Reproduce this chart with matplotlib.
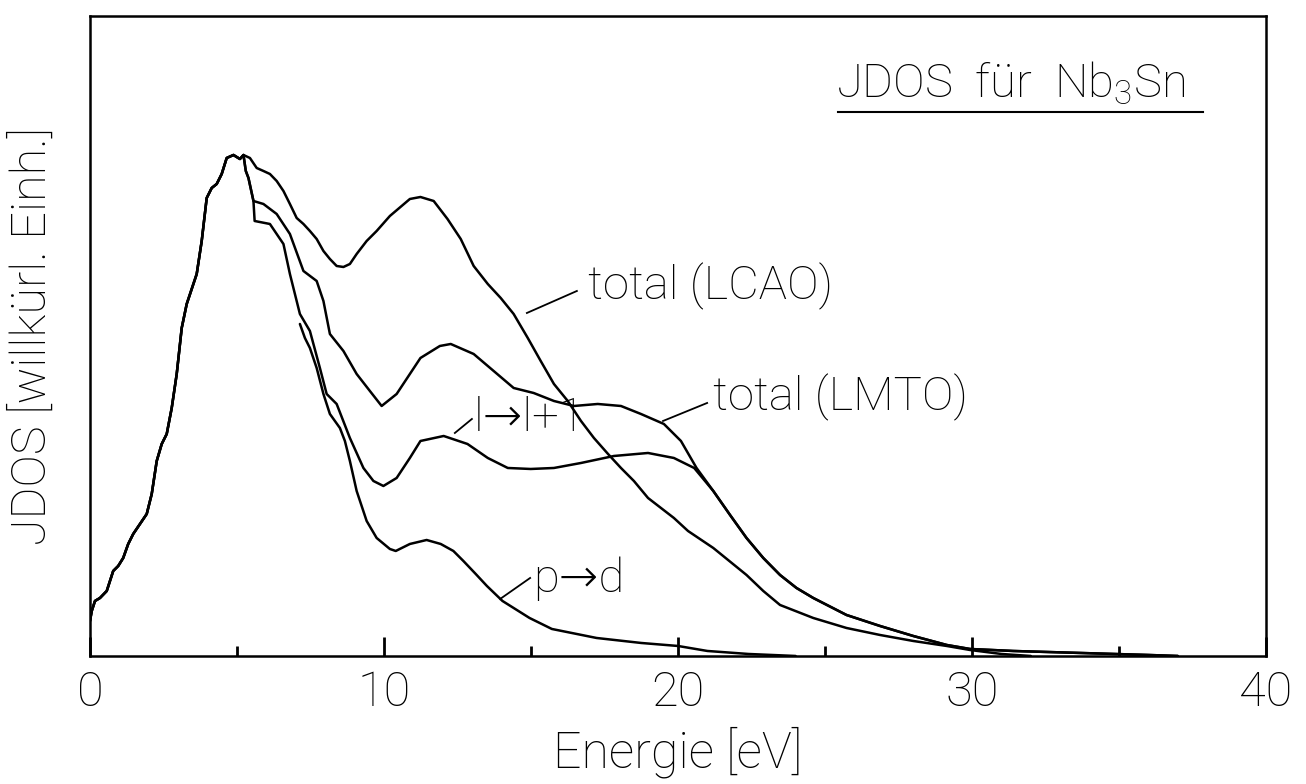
"""JDOS of Nb3Sn: LCAO / LMTO totals and the l->l+1, p->d partial curves."""

import matplotlib

matplotlib.use("Agg")
import matplotlib.pyplot as plt  # noqa: E402

plt.rcParams["font.family"] = ["Roboto", "DejaVu Sans"]
plt.rcParams["font.weight"] = "light"
plt.rcParams["axes.labelweight"] = "light"
plt.rcParams["mathtext.fontset"] = "custom"
plt.rcParams["mathtext.rm"] = "Roboto:light"
plt.rcParams["mathtext.default"] = "regular"

# energy in eV, JDOS in arbitrary units
rise_e = [0.0, 0.06, 0.17, 0.34, 0.57, 0.79, 0.96, 1.13, 1.30, 1.47, 1.70, 1.93,
          2.10, 2.27, 2.44, 2.61, 2.78, 2.95, 3.12, 3.29, 3.46, 3.63, 3.80, 3.97,
          4.14, 4.31, 4.48, 4.65, 4.88, 5.10, 5.22]
rise_j = [35, 45, 55, 58, 65, 85, 90, 98, 112, 122, 132, 142,
          162, 195, 212, 222, 248, 282, 328, 352, 367, 382, 415, 458,
          468, 472, 482, 498, 501, 497, 501]

lcao_e = [5.44, 5.67, 5.90, 6.12, 6.35, 6.58, 6.80, 7.03, 7.26, 7.48, 7.71, 7.94,
          8.16, 8.39, 8.62, 8.84, 9.07, 9.41, 9.75, 10.20, 10.88, 11.24, 11.69,
          12.16, 12.61, 13.05, 13.53, 13.97, 14.41, 14.89, 15.33, 15.78, 16.25,
          16.70, 17.14, 17.62, 18.06, 18.50, 18.98, 19.42, 19.86, 20.34, 21.20,
          22.33, 22.90, 23.47, 24.60, 25.73, 26.87, 28.00, 29.14, 29.93, 31.0, 32.0]
lcao_j = [498, 488, 485, 482, 475, 465, 452, 438, 432, 425, 417, 405,
          397, 390, 389, 392, 402, 415, 425, 440, 457, 459, 455,
          437, 417, 390, 372, 358, 342, 318, 295, 272, 255,
          235, 218, 202, 188, 175, 158, 148, 138, 125, 108,
          81, 65, 51, 38, 28, 21, 15, 10, 6, 2, 0]

lmto_e = [5.30, 5.39, 5.56, 5.90, 6.35, 6.80, 7.26, 7.71, 7.94, 8.16, 8.62, 9.07,
          9.52, 9.92, 10.43, 10.88, 11.24, 11.90, 12.27, 13.05, 13.73, 14.41,
          15.09, 15.78, 16.46, 17.27, 18.06, 18.74, 19.52, 20.10, 20.63]
lmto_j = [485, 478, 455, 452, 442, 422, 385, 375, 355, 322, 305, 282,
          265, 250, 262, 282, 298, 310, 312, 302, 285, 268,
          263, 255, 250, 252, 250, 242, 232, 215, 188]

llp1_e = [5.30, 5.39, 5.56, 5.60, 6.12, 6.58, 6.80, 7.14, 7.48, 7.82, 8.05, 8.39,
          8.84, 9.30, 9.64, 9.98, 10.43, 10.88, 11.24, 12.03, 12.84, 13.53, 14.21,
          14.99, 15.78, 16.70, 17.82, 18.98, 19.86, 20.55]
llp1_j = [485, 478, 455, 435, 432, 412, 382, 342, 325, 288, 262, 252,
          218, 188, 175, 170, 178, 198, 215, 220, 212, 198, 188,
          187, 188, 193, 200, 203, 198, 188]

# LMTO and l->l+1 run together above ~21 eV
tail_e = [21.20, 21.77, 22.33, 22.90, 23.47, 24.03, 24.60, 25.73, 26.87, 28.00,
          29.14, 29.93, 31.40, 33.70, 36.0, 37.0]
tail_j = [165, 141, 118, 98, 81, 68, 58, 41, 30, 20, 11, 7, 5, 3, 1, 0]

pd_e = [7.14, 7.31, 7.48, 7.71, 7.94, 8.16, 8.50, 8.67, 8.84, 9.07, 9.41, 9.75,
        10.20, 10.40, 10.88, 11.45, 11.93, 12.36, 12.70, 13.12, 13.50, 14.03,
        14.95, 15.71, 17.23, 18.75, 20.0, 21.0, 22.4, 24.0]
pd_j = [332, 318, 308, 288, 262, 242, 228, 215, 195, 165, 135, 118,
        107, 105, 112, 116, 112, 105, 95, 82, 70, 55,
        38, 27, 18, 13, 10, 5, 2, 0]

# label, leader start, leader end, text anchor (data coords)
labels = [
    ("total (LCAO)", (14.86, 343), (16.56, 365), (16.94, 370)),
    ("total (LMTO)", (19.49, 235), (20.99, 253), (21.19, 259)),
    ("l\u2192l+1", (12.41, 223), (12.99, 237), (13.06, 238)),
    ("p\u2192d", (13.95, 57), (14.97, 78), (15.07, 77)),
]

fig = plt.figure(figsize=(13.06, 7.84), dpi=100)
ax = fig.add_axes([0.0689, 0.1633, 0.9005, 0.8163])

style = dict(color="k", lw=1.8, solid_joinstyle="round", solid_capstyle="round")
ax.plot(rise_e + lcao_e, rise_j + lcao_j, **style)
ax.plot(rise_e + lmto_e + tail_e, rise_j + lmto_j + tail_j, **style)
ax.plot(rise_e + llp1_e + tail_e, rise_j + llp1_j + tail_j, **style)
ax.plot(pd_e, pd_j, **style)

for text, p0, p1, pos in labels:
    ax.plot([p0[0], p1[0]], [p0[1], p1[1]], color="k", lw=1.3)
    ax.text(pos[0], pos[1], text, fontsize=34, ha="left", va="center")

ax.text(0.634, 0.873, "JDOS  für  Nb$_3$Sn", transform=ax.transAxes,
        fontsize=34, ha="left", va="baseline")
ax.plot([0.636, 0.946], [0.85, 0.85], transform=ax.transAxes, color="k", lw=1.5)

ax.set_xlim(0, 40)
ax.set_ylim(0, 640)
ax.set_xticks([0, 10, 20, 30, 40])
ax.set_xticks([5, 15, 25, 35], minor=True)
ax.set_yticks([])
ax.tick_params(axis="x", which="major", direction="in", length=14, width=2,
               labelsize=35, pad=10)
ax.tick_params(axis="x", which="minor", direction="in", length=7, width=2)
for s in ax.spines.values():
    s.set_linewidth(1.8)

ax.set_xlabel("Energie [eV]", fontsize=36, fontweight="light", va="center")
ax.xaxis.set_label_coords(0.5, -0.15)
ax.set_ylabel("JDOS [willkürl. Einh.]", fontsize=35, fontweight="light",
              va="center")
ax.yaxis.set_label_coords(-0.0485, 0.5)

fig.savefig("out.png", dpi=100)
plt.close(fig)
